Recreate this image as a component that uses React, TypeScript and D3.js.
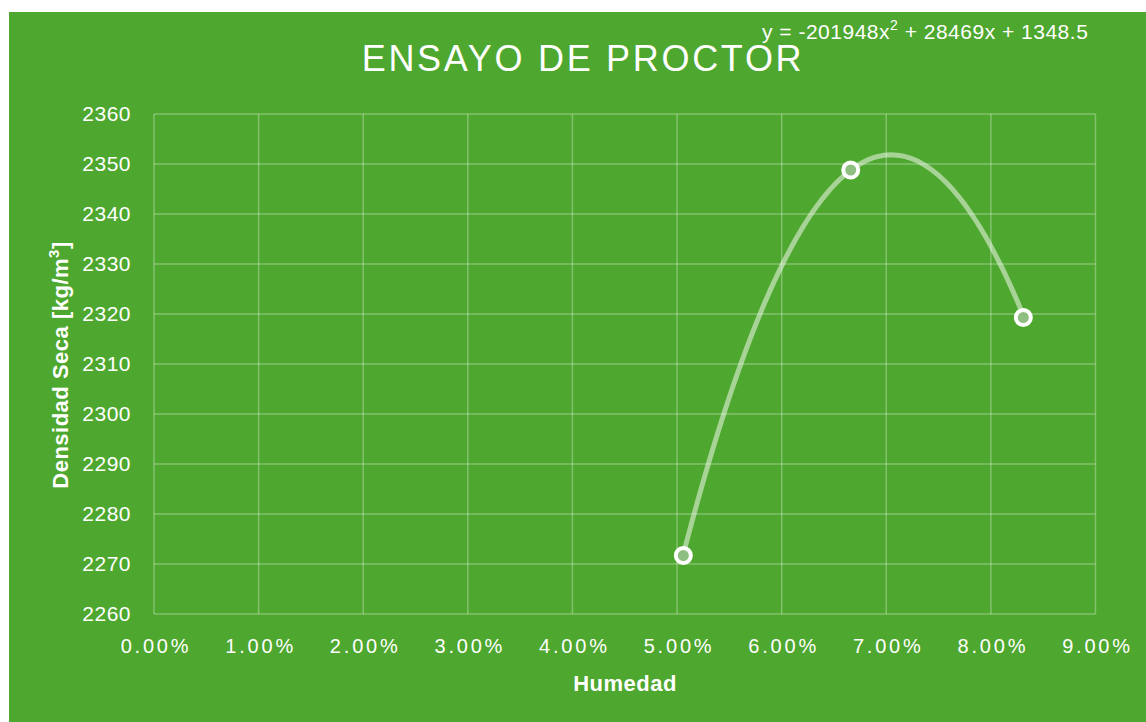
import React from "react";
import * as d3 from "d3";

const humedad = [0.0506, 0.0666, 0.0831];
const densidad = [2271.7, 2348.8, 2319.3];
const trendCoef = [-201948, 28469, 1348.5]; // a, b, c
const yTicks = [2260, 2270, 2280, 2290, 2300, 2310, 2320, 2330, 2340, 2350, 2360];
const xTicks = [0, 0.01, 0.02, 0.03, 0.04, 0.05, 0.06, 0.07, 0.08, 0.09];

const W = 1146, H = 722;
const left = 154, right = 1095.5, top = 114, bottom = 614;

export default function App() {
  const x = d3.scaleLinear().domain([0, 0.09]).range([left, right]);
  const y = d3.scaleLinear().domain([2260, 2360]).range([bottom, top]);
  const [a, b, c] = trendCoef;
  const xs = d3.range(0, 101).map((i) => humedad[0] + (humedad[humedad.length - 1] - humedad[0]) * i / 100);
  const line = d3.line<number>().x((d) => x(d)).y((d) => y(a * d * d + b * d + c)).curve(d3.curveLinear);
  const font = "'Liberation Sans', Arial, sans-serif";
  return (
    <svg width={W} height={H} style={{ position: "absolute", left: 0, top: 0 }}>
      <rect x={0} y={0} width={W} height={H} fill="#ffffff" />
      <rect x={9} y={12} width={W - 9} height={H - 12} fill="#4ea72e" />
      {yTicks.map((t) => (
        <line key={"gy" + t} x1={left} x2={right} y1={y(t)} y2={y(t)} stroke="rgba(255,255,255,0.3)" strokeWidth={1.5} />
      ))}
      {xTicks.map((t) => (
        <line key={"gx" + t} x1={x(t)} x2={x(t)} y1={top} y2={bottom} stroke="rgba(255,255,255,0.3)" strokeWidth={1.5} />
      ))}
      {yTicks.map((t) => (
        <text key={"ty" + t} x={131} y={y(t) + 7} textAnchor="end" fill="#fff" fontSize={21} fontFamily={font} letterSpacing={0.5}>{t}</text>
      ))}
      {xTicks.map((t) => (
        <text key={"tx" + t} x={x(t) + 2} y={653} textAnchor="middle" fill="#fff" fontSize={20} fontFamily={font} letterSpacing={2.8}>{d3.format(".2%")(t)}</text>
      ))}
      <path d={line(xs) || ""} fill="none" stroke="rgba(255,255,255,0.5)" strokeWidth={5} strokeLinecap="round" />
      {humedad.map((h, i) => (
        <circle key={"p" + i} cx={x(h)} cy={y(densidad[i])} r={7.5} fill="#8fbf80" stroke="#fff" strokeWidth={4} />
      ))}
      <text x={583} y={71} textAnchor="middle" fill="#fff" fontSize={36} fontFamily={font} letterSpacing={2.7}>ENSAYO DE PROCTOR</text>
      <text x={762} y={39} fill="#fff" fontSize={21} fontFamily={font} letterSpacing={0.5}>
        y = -201948x<tspan dy={-9} fontSize={14}>2</tspan><tspan dy={9}> + 28469x + 1348.5</tspan>
      </text>
      <text x={625} y={691} textAnchor="middle" fill="#fff" fontSize={22} fontWeight="bold" fontFamily={font} letterSpacing={0.5}>Humedad</text>
      <text transform="translate(68,365) rotate(-90)" textAnchor="middle" fill="#fff" fontSize={22} fontWeight="bold" fontFamily={font} letterSpacing={0.5}>
        Densidad Seca [kg/m<tspan dy={-9} fontSize={15}>3</tspan><tspan dy={9}>]</tspan>
      </text>
    </svg>
  );
}
